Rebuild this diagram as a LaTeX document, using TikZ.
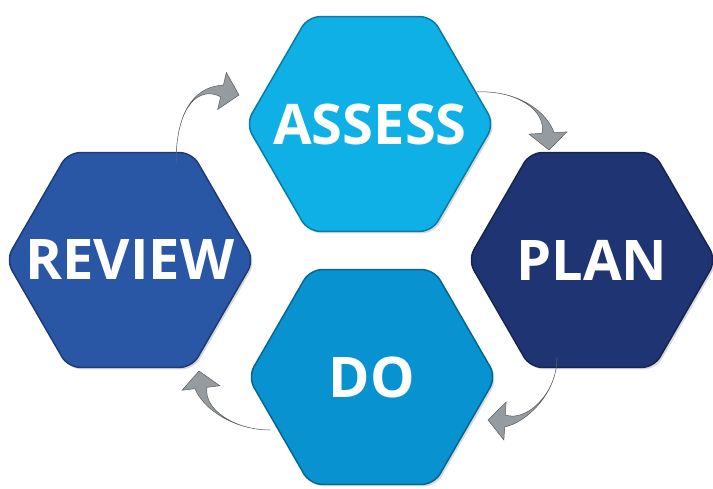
\documentclass[tikz,border=0pt]{standalone}
\usepackage{fontspec}
\newfontfamily\hexfont{Open Sans}
\usetikzlibrary{shapes.geometric,calc,shadows}

\definecolor{assesscol}{RGB}{15,176,230}
\definecolor{docol}{RGB}{8,146,208}
\definecolor{reviewcol}{RGB}{42,86,166}
\definecolor{plancol}{RGB}{31,52,114}
\definecolor{arrowgray}{RGB}{150,155,160}

\tikzset{
  hexa/.style={regular polygon, regular polygon sides=6, minimum size=248pt,
    inner sep=0pt, rounded corners=12pt, fill=#1, draw=#1!70!black, line width=1.5pt,
    drop shadow={shadow xshift=2pt, shadow yshift=-2pt, opacity=0.3}},
  hexlabel/.style={text=white, inner sep=0pt,
    font=\hexfont\bfseries\fontsize{56}{56}\selectfont},
  bentarrow/.style={fill=arrowgray, draw=arrowgray!60!black, line width=0.5pt},
}

% tail, control, head base, tip
\newcommand{\bentarrow}[4]{%
  \path[bentarrow] (#1) .. controls (#2) and ($(#3)!-22pt!(#4)$) .. ($(#3)!6pt!90:(#4)$)
    -- ($(#3)!19pt!90:(#4)$) -- (#4) -- ($(#3)!19pt!-90:(#4)$) -- ($(#3)!6pt!-90:(#4)$)
    .. controls ($(#3)!-22pt!(#4)$) and (#2) .. (#1) -- cycle;}

\begin{document}
\begin{tikzpicture}[x=1pt,y=1pt]
  \useasboundingbox (0,0) rectangle (713,488);

  \node[hexa=assesscol, label={[hexlabel]center:ASSESS}] (assess) at (370,364) {};
  \node[hexa=plancol, label={[hexlabel]center:PLAN}] (plan) at (592,228) {};
  \node[hexa=docol, label={[hexlabel]center:DO}] (do) at (372,111) {};
  \node[hexa=reviewcol, label={[hexlabel]center:REVIEW}] (review) at (130,228) {};

  % review -> assess
  \coordinate (t1) at ([shift={(46,97)}]review.center);
  \coordinate (c1) at ([shift={(0,60)}]t1);
  \coordinate (b1) at ([shift={(-148,33)}]assess.center);
  \coordinate (p1) at ([shift={(-131,29)}]assess.center);
  \bentarrow{t1}{c1}{b1}{p1}

  % assess -> plan
  \coordinate (t2) at ([shift={(107,32)}]assess.center);
  \coordinate (c2) at ([shift={(40,2)}]t2);
  \coordinate (b2) at ([shift={(-44,127)}]plan.center);
  \coordinate (p2) at ([shift={(-43,110)}]plan.center);
  \bentarrow{t2}{c2}{b2}{p2}

  % plan -> do
  \coordinate (t3) at ([shift={(-35,-98)}]plan.center);
  \coordinate (c3) at ([shift={(0,-35)}]t3);
  \coordinate (b3) at ([shift={(133,-44)}]do.center);
  \coordinate (p3) at ([shift={(116,-43)}]do.center);
  \bentarrow{t3}{c3}{b3}{p3}

  % do -> review
  \coordinate (t4) at ([shift={(-102,-53)}]do.center);
  \coordinate (c4) at ([shift={(-35,0)}]t4);
  \coordinate (b4) at ([shift={(71,-128)}]review.center);
  \coordinate (p4) at ([shift={(69,-111)}]review.center);
  \bentarrow{t4}{c4}{b4}{p4}
\end{tikzpicture}
\end{document}
